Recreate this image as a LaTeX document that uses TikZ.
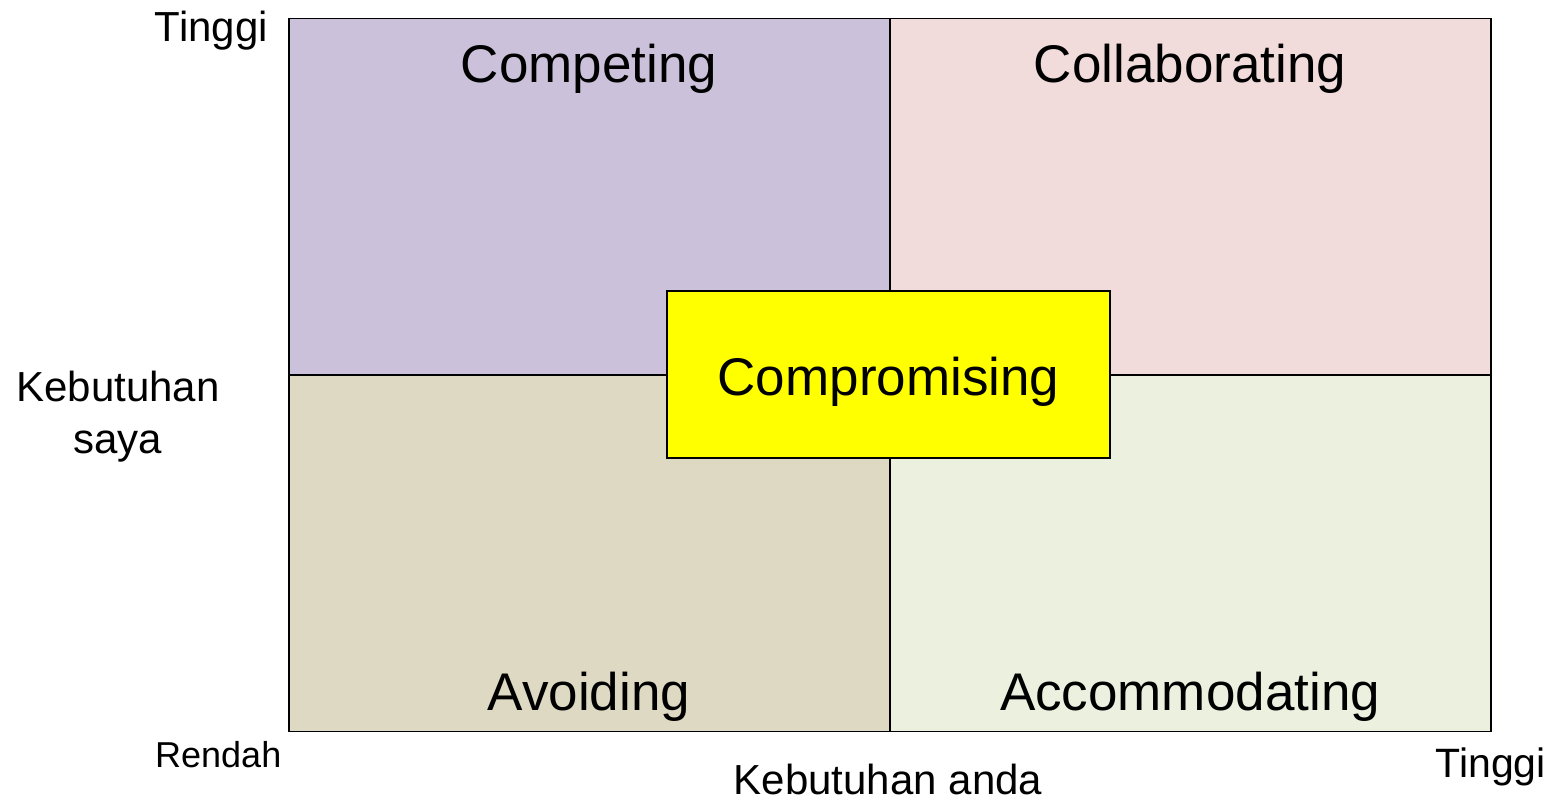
\documentclass[tikz,border=0pt]{standalone}
\usepackage{fontspec}
\setmainfont{Liberation Sans}
\usepackage{xcolor}
\usetikzlibrary{positioning}
\definecolor{competing}{HTML}{CCC1DA}
\definecolor{collab}{HTML}{F2DCDB}
\definecolor{avoiding}{HTML}{DDD9C3}
\definecolor{accom}{HTML}{EBF1DE}
\definecolor{compyellow}{RGB}{255,255,0}
\begin{document}
\begin{tikzpicture}[x=1pt,y=-1pt]
\tikzstyle{quad} =[draw, line width=1.5pt, minimum width=601pt, minimum height=356.5pt, inner sep=0pt]
\tikzstyle{qtext} =[anchor=base, inner sep=0pt, font=\fontsize{53}{60}\selectfont]
\tikzstyle{axis} =[inner sep=0pt, font=\fontsize{42}{52}\selectfont]

\useasboundingbox (0,0) rectangle (1555,800);

\node[quad, fill=competing](q1) at (589.5,196.75){};
\node[quad, fill=collab](q2) at (1190.5,196.75){};
\node[quad, fill=avoiding](q3) at (589.5,553.25){};
\node[quad, fill=accom](q4) at (1190.5,553.25){};

\node[qtext](competing) at (589,82){Competing};
\node[qtext](collab) at (1190,82){Collaborating};
\node[qtext](avoiding) at (589,710){Avoiding};
\node[qtext](accom) at (1190,710){Accommodating};

\node[draw, line width=1.5pt, fill=compyellow, minimum width=443pt, minimum height=167pt, inner sep=0pt](comp) at (888.5,374.5){};
\node[qtext](comptext) at (888.5,395){Compromising};

\node[axis, anchor=base east](tinggiy) at (268,42){Tinggi};
\node[axis, align=center, anchor=base](kebsaya) at (118,453){Kebutuhan\\saya};
\node[axis, anchor=base west, font=\fontsize{36}{40}\selectfont](rendah) at (155,767){Rendah};
\node[axis, anchor=base](kebanda) at (888,794){Kebutuhan anda};
\node[axis, anchor=base east, font=\fontsize{41}{48}\selectfont](tinggix) at (1546,777){Tinggi};
\end{tikzpicture}
\end{document}
